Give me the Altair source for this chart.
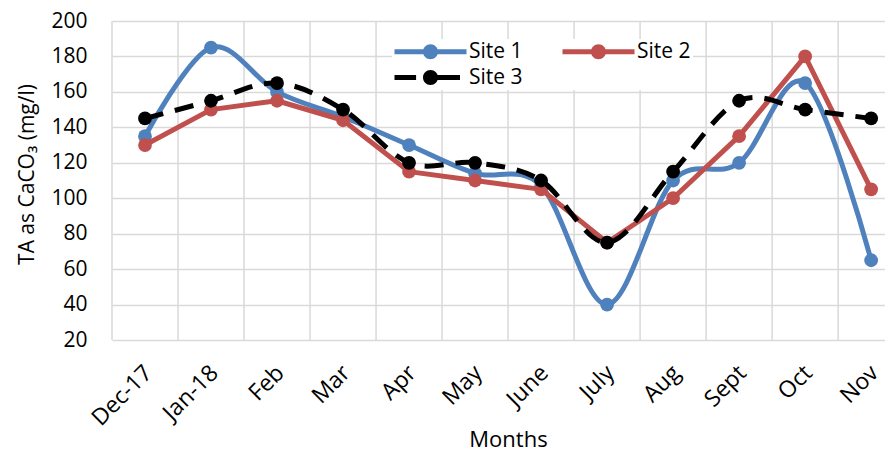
import altair as alt
import pandas as pd

months = ["Dec-17", "Jan-18", "Feb", "Mar", "Apr", "May", "June", "July", "Aug", "Sept", "Oct", "Nov"]
site1 = [135, 185, 160, 146, 130, 114, 107, 40, 110, 120, 165, 65]
site2 = [130, 150, 155, 144, 115, 110, 105, 75, 100, 135, 180, 105]
site3 = [145, 155, 165, 150, 120, 120, 110, 75, 115, 155, 150, 145]
sites = ["Site 1", "Site 2", "Site 3"]
colors = ["#4F81BD", "#C0504D", "#000000"]
y_ticks = list(range(20, 201, 20))

rows = []
for s, vals in zip(sites, [site1, site2, site3]):
    for i, (m, v) in enumerate(zip(months, vals)):
        rows.append({"idx": i, "month": m, "site": s, "value": v})
df = pd.DataFrame(rows)
bounds = pd.DataFrame({"b": [i - 0.5 for i in range(len(months))]})

FONT = "Open Sans"
GRID = "#d9d9d9"

x_scale = alt.Scale(domain=[-0.5, 11.21], nice=False, zero=False)
y_scale = alt.Scale(domain=[20, 200], nice=False, zero=False)
label_expr = "[" + ",".join(f"'{m}'" for m in months) + "][datum.value]"

x_axis = alt.Axis(
    values=list(range(len(months))), labelExpr=label_expr, grid=False, ticks=False,
    tickSize=0, domain=False, labelAngle=315, labelAlign="right", labelBaseline="middle",
    labelFont=FONT, labelFontSize=23, labelColor="#000", labelPadding=29, labelOffset=3,
    labelOverlap=False, labelBound=False, labelFlush=False,
    title="Months", titleFont=FONT, titleFontSize=22, titleFontWeight="normal",
    titleColor="#000", titleX=396, titleY=106, titleBaseline="alphabetic", titleAlign="center",
)
y_axis = alt.Axis(
    values=y_ticks, grid=True, gridColor=GRID, gridWidth=1.5, ticks=False, tickSize=0,
    domain=False, labelFont=FONT, labelFontSize=21, labelColor="#000", labelPadding=25,
    title="TA as CaCO₃ (mg/l)", titleFont=FONT, titleFontSize=21, titleFontWeight="normal",
    titleColor="#000", titleAngle=270, titleX=-79, titleY=153, titleAlign="center",
    titleBaseline="alphabetic",
)

# legend symbols: units of 10 px (symbolSize 400), drawn from x=0 to x=72 px
circle = "M1.85,0A0.75,0.75,0,1,1,3.35,0A0.75,0.75,0,1,1,1.85,0Z"
solid_path = "M-1,-0.25H6.2V0.25H-1Z" + circle
dashed_path = "M-1,-0.25H1.16V0.25H-1ZM2.6,-0.25H5.55V0.25H2.6Z" + circle

legend = alt.Legend(
    title=None, orient="none", legendX=280, legendY=18, columns=2, direction="horizontal",
    fillColor="white", padding=2, columnPadding=39, rowPadding=4,
    labelFont=FONT, labelFontSize=21, labelColor="#000", labelOffset=54,
    symbolSize=400, symbolStrokeWidth=0, symbolOpacity=1,
)

color_scale = alt.Scale(domain=sites, range=colors)
x = alt.X("idx:Q", scale=x_scale, axis=x_axis)
y = alt.Y("value:Q", scale=y_scale, axis=y_axis)

grid_rules = alt.Chart(bounds).mark_rule(color=GRID, strokeWidth=1.5).encode(
    x=alt.X("b:Q", scale=x_scale)
)

layers = [grid_rules]
styles = {
    "Site 1": dict(interpolate="cardinal", tension=0, strokeCap="round", strokeJoin="round"),
    "Site 2": dict(interpolate="linear", strokeCap="round", strokeJoin="round"),
    "Site 3": dict(interpolate="cardinal", tension=0, strokeDash=[19, 12], strokeCap="butt"),
}
for s, c in zip(sites, colors):
    base = alt.Chart(df).transform_filter(alt.datum.site == s)
    layers.append(base.mark_line(strokeWidth=5, color=c, **styles[s]).encode(x=x, y=y))
    layers.append(base.mark_circle(size=190, opacity=1, color=c).encode(x=x, y=y))

legend_layer = alt.Chart(df).mark_point(filled=True, opacity=0, size=400).encode(
    x=x, y=y,
    color=alt.Color("site:N", scale=color_scale, legend=legend),
    shape=alt.Shape("site:N", scale=alt.Scale(domain=sites, range=[solid_path, solid_path, dashed_path]), legend=legend),
)
layers.append(legend_layer)

chart = alt.layer(*layers).properties(
    width=773, height=319,
    padding={"left": 104, "top": 13, "right": 0, "bottom": 113},
    autosize=alt.AutoSizeParams(type="none"),
    background="white",
).configure_view(stroke=None)

chart.save("out.html", embed_options={"renderer": "svg", "actions": False})
